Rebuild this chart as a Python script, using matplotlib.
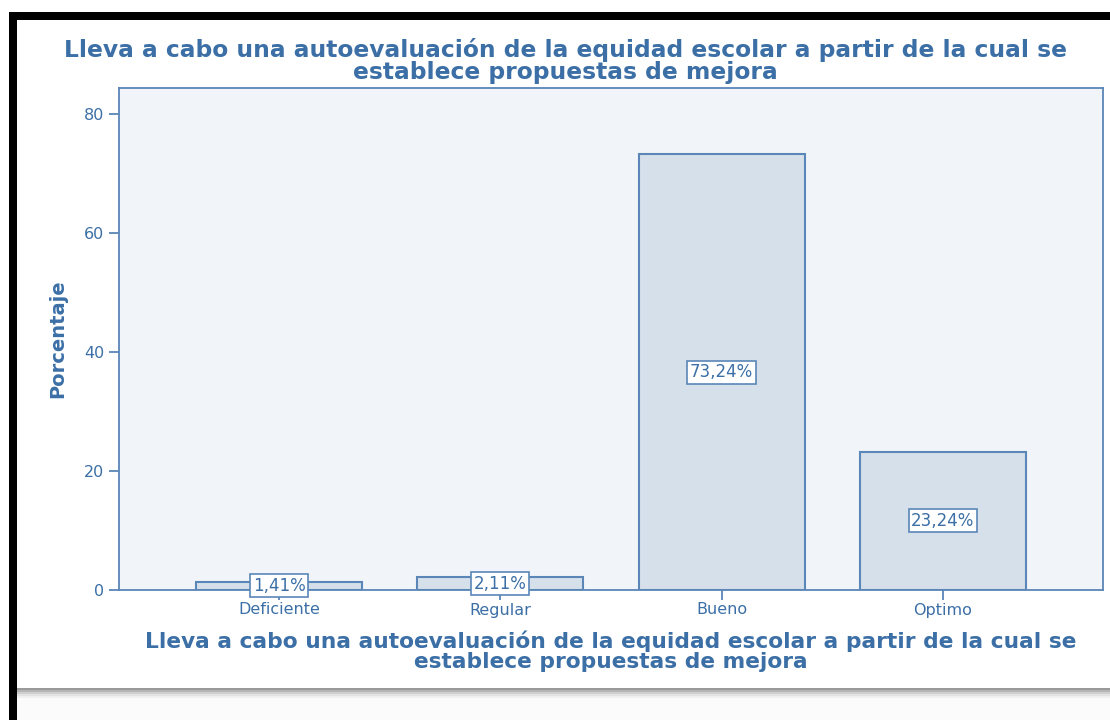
import matplotlib.pyplot as plt
from matplotlib.patches import Rectangle

categories = ['Deficiente', 'Regular', 'Bueno', 'Optimo']
percentages = [1.41, 2.11, 73.24, 23.24]
bar_labels = ['1,41%', '2,11%', '73,24%', '23,24%']
y_ticks = [0, 20, 40, 60, 80]

title = 'Lleva a cabo una autoevaluación de la equidad escolar a partir de la cual se\nestablece propuestas de mejora'

blue_text = '#3b6fa6'
blue_line = '#5a86b8'

W, H = 1110, 720
fig = plt.figure(figsize=(W / 100, H / 100), dpi=100)
fig.patch.set_facecolor('white')


def frame_rect(x0, y0, w, h, color):
    # rectangle in pixel coords measured from the top-left corner
    fig.patches.append(Rectangle((x0 / W, (H - y0 - h) / H), w / W, h / H,
                                 transform=fig.transFigure, facecolor=color,
                                 edgecolor='none', zorder=-10))


# black frame (top and left), grey shadow at the bottom
frame_rect(9, 12, W - 9, H - 12, 'black')
frame_rect(17, 20, W - 17, H - 20, '#fbfbfb')
for i, c in enumerate(['#9a9a9a', '#b5b5b5', '#cfcfcf', '#e3e3e3', '#f0f0f0']):
    frame_rect(17, 688 + i * 2, W - 17, 2, c)
frame_rect(17, 20, W - 17, 668, 'white')

ax = fig.add_axes([119 / W, (H - 590) / H, (1103 - 119) / W, (590 - 88) / H])
ax.set_facecolor('#f1f5f9')

x = range(len(categories))
ax.bar(x, percentages, width=0.75, color='#d6e0ea', edgecolor=blue_line, linewidth=1.5, zorder=2)

for xi, v, lab in zip(x, percentages, bar_labels):
    ax.text(xi, v / 2, lab, ha='center', va='center', fontsize=12, color=blue_text,
            zorder=3, bbox=dict(boxstyle='square,pad=0.15', facecolor='white',
                                edgecolor=blue_line, linewidth=1.2))

ax.set_xlim(-0.724, 3.724)
ax.set_ylim(0, 84.4)
ax.set_yticks(y_ticks)
ax.set_xticks(list(x))
ax.set_xticklabels(categories)

for s in ax.spines.values():
    s.set_color(blue_line)
    s.set_linewidth(1.3)

ax.tick_params(axis='both', colors=blue_line, labelcolor=blue_text, labelsize=11.5,
               length=7, width=1.3)
ax.tick_params(axis='x', pad=2)

fig.text(565 / W, 1 - 61 / H, title, ha='center', va='center', fontsize=16.8,
         fontweight='bold', color=blue_text, linespacing=1.0)
ax.set_xlabel(title, fontsize=15.7, fontweight='bold', color=blue_text,
              linespacing=1.05, labelpad=9)
ax.set_ylabel('Porcentaje', fontsize=14, fontweight='bold', color=blue_text,
              labelpad=12)

fig.savefig('out.png', dpi=100)
